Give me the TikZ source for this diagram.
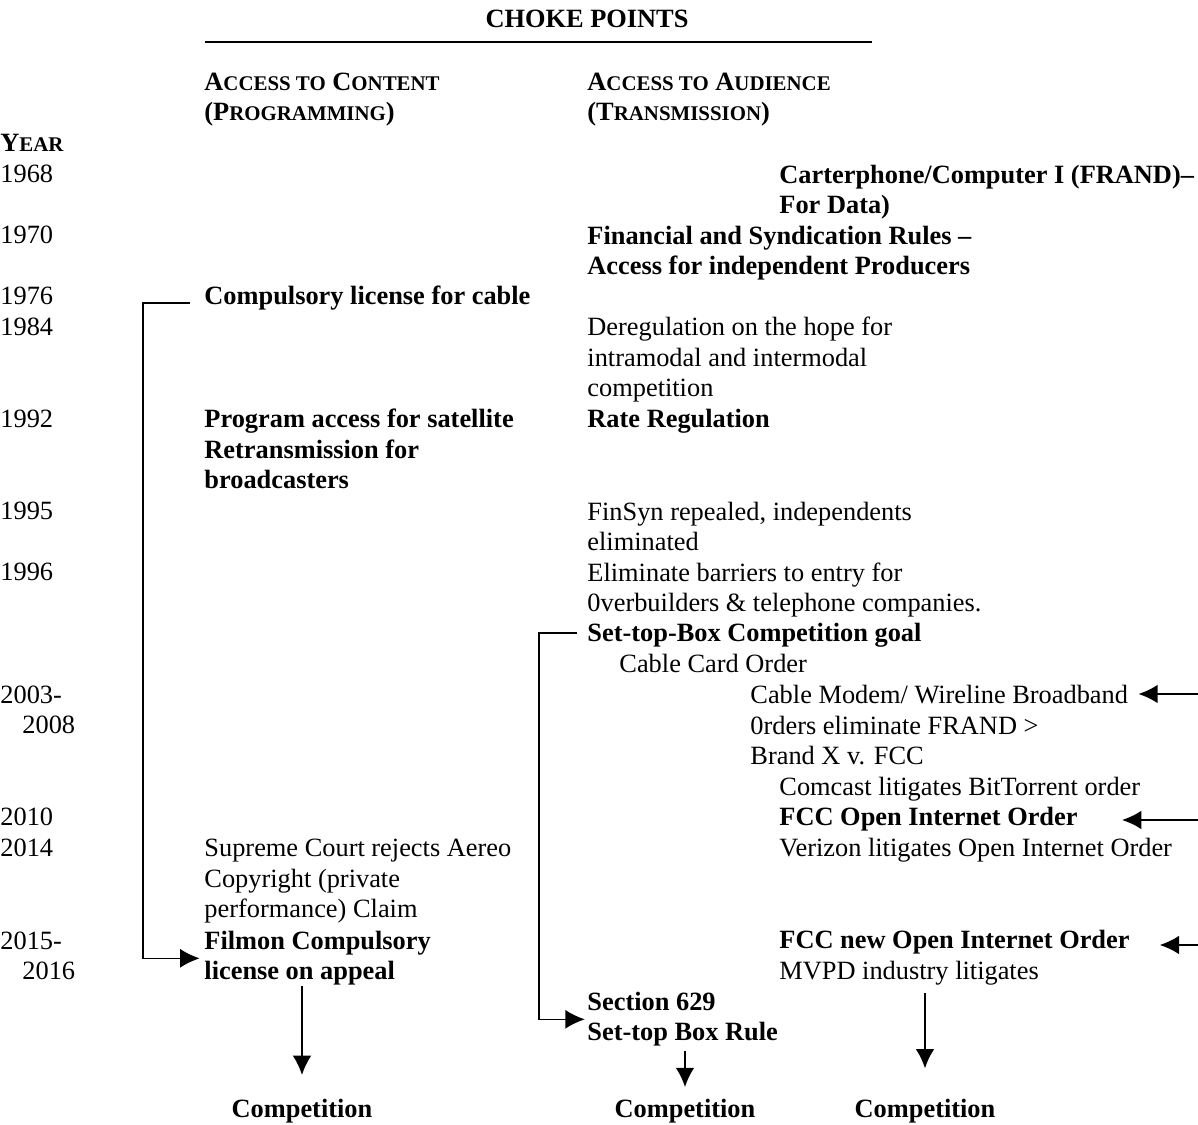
\documentclass[tikz,border=0pt]{standalone}
\usepackage{fontspec}
\setmainfont{Liberation Serif}
\usetikzlibrary{arrows.meta,calc}
\newcommand{\fsc}[1]{{\fontsize{9.5pt}{11pt}\selectfont #1}}
\tikzset{%
  >={Latex[width=3mm,length=3.1mm]},
  % Specifications for style of text blocks (anchored on the last line):
            base/.style = {inner sep=0pt, anchor=base west, align=left,
                           font=\fontsize{12pt}{13.95pt}\selectfont},
         boldtxt/.style = {base, font=\fontsize{12pt}{13.95pt}\selectfont\bfseries},
       resulttxt/.style = {boldtxt, anchor=base},
         bracket/.style = {line width=0.55pt},
         pointer/.style = {->, line width=1pt},
}

\begin{document}
\begin{tikzpicture}[x=0.455pt, y=-0.455pt]
  \useasboundingbox (0,0) rectangle (1198,1125);
  % Heading
  \node (title)    [resulttxt] at (587,28) {CHOKE POINTS};
  \draw[line width=0.6pt] (205,42) -- (872,42);
  \node (content)  [boldtxt] at (204,121) {A\fsc{CCESS TO} C\fsc{ONTENT}\\(P\fsc{ROGRAMMING})};
  \node (audience) [boldtxt] at (587,121) {A\fsc{CCESS TO} A\fsc{UDIENCE}\\(T\fsc{RANSMISSION})};

  % Years
  \node (year)  [boldtxt] at (0,152) {Y\fsc{EAR}};
  \node (y1968) [base] at (0,183) {1968};
  \node (y1970) [base] at (0,244) {1970};
  \node (y1976) [base] at (0,305) {1976};
  \node (y1984) [base] at (0,336) {1984};
  \node (y1992) [base] at (0,428) {1992};
  \node (y1995) [base] at (0,520) {1995};
  \node (y1996) [base] at (0,581) {1996};
  \node (y2003) [base] at (0,734) {2003-\\\hspace*{10pt}2008};
  \node (y2010) [base] at (0,826) {2010};
  \node (y2014) [base] at (0,857) {2014};
  \node (y2015) [base] at (0,980) {2015-\\\hspace*{10pt}2016};

  % Access to content
  \node (cable)      [boldtxt] at (204,305) {Compulsory license for cable};
  \node (progaccess) [boldtxt] at (204,489) {Program access for satellite\\Retransmission for\\broadcasters};
  \node (aereo)      [base]    at (204,918) {Supreme Court rejects Aereo\\Copyright (private\\performance) Claim};
  \node (filmon)     [boldtxt] at (204,980) {Filmon Compulsory\\license on appeal};

  % Access to audience
  \node (carter)    [boldtxt] at (779,214) {Carterphone/Computer I (FRAND)–\\For Data)};
  \node (finsyn)    [boldtxt] at (587,275) {Financial and Syndication Rules –\\Access for independent Producers};
  \node (dereg)     [base]    at (587,397) {Deregulation on the hope for\\intramodal and intermodal\\competition};
  \node (ratereg)   [boldtxt] at (587,428) {Rate Regulation};
  \node (repeal)    [base]    at (587,551) {FinSyn repealed, independents\\eliminated};
  \node (barriers)  [base]    at (587,612) {Eliminate barriers to entry for\\0verbuilders \& telephone companies.};
  \node (settop)    [boldtxt] at (587,642) {Set-top-Box Competition goal};
  \node (cablecard) [base]    at (619,673) {Cable Card Order};
  \node (modem)     [base]    at (750,765) {Cable Modem/ Wireline Broadband\\0rders eliminate FRAND >\\Brand X v. FCC};
  \node (comcast)   [base]    at (779,796) {Comcast litigates BitTorrent order};
  \node (oio)       [boldtxt] at (779,826) {FCC Open Internet Order};
  \node (verizon)   [base]    at (779,857) {Verizon litigates Open Internet Order};
  \node (newoio)    [boldtxt] at (779,949) {FCC new Open Internet Order};
  \node (mvpd)      [base]    at (779,980) {MVPD industry litigates};
  \node (section)   [boldtxt] at (587,1041) {Section 629\\Set-top Box Rule};

  % Results
  \node (comp1) [resulttxt] at (302,1118) {Competition};
  \node (comp2) [resulttxt] at (685,1118) {Competition};
  \node (comp3) [resulttxt] at (925,1118) {Competition};

  % Brackets
  \draw[bracket, ->, shorten >=2pt] ($(cable.base west)+(-14,-2)$) -- ++(-47,0) |- (filmon.west);
  \draw[bracket, ->, shorten >=1pt] ($(settop.base west)+(-10,-9)$) -- ++(-38,0) |- (section.west);

  % Arrows from the right edge
  \coordinate (edge1) at (1198,694);
  \coordinate (edge2) at (1198,820);
  \coordinate (edge3) at (1198,945);
  \draw[pointer, shorten >=4.5pt] (edge1) -- (edge1 -| modem.east);
  \draw[pointer, shorten >=20pt]  (edge2) -- (edge2 -| oio.east);
  \draw[pointer, shorten >=13.5pt] (edge3) -- (edge3 -| newoio.east);

  % Arrows down to the results
  \draw[pointer, shorten >=11pt] (filmon.south -| comp1.north) -- (comp1.north);
  \draw[pointer, shorten <=2pt, shorten >=5.5pt] (section.south -| comp2.north) -- (comp2.north);
  \draw[pointer, shorten <=3pt, shorten >=14pt] (mvpd.south -| comp3.north) -- (comp3.north);
\end{tikzpicture}
\end{document}
